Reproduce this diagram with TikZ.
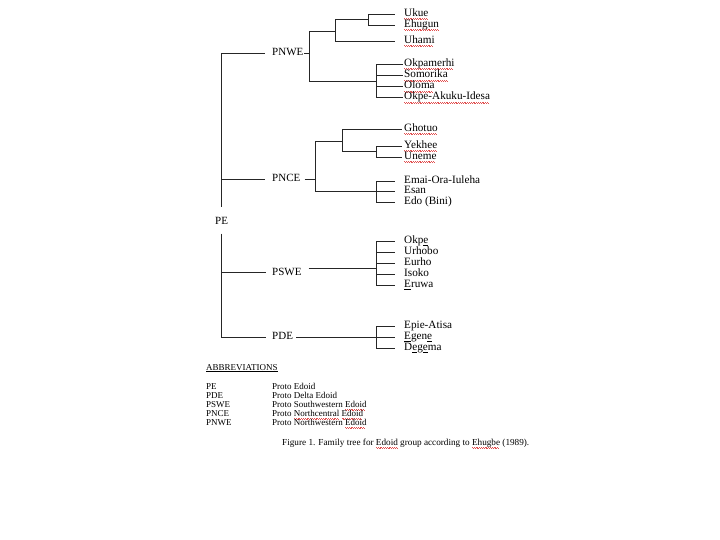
\documentclass[tikz,border=0pt]{standalone}
\usepackage{fontspec}
\setmainfont{Liberation Serif}
\definecolor{spell}{RGB}{225,80,80}
\newsavebox\splbox
\newcommand\spl[1]{\sbox\splbox{#1}\rlap{\usebox\splbox}\hbox to \wd\splbox{\color{spell}\leaders\hbox{\rule[-2.3pt]{0.9pt}{0.4pt}\rule[-3.1pt]{0.9pt}{0.4pt}}\hfill}}
\tikzset{
  tree/.style={line width=0.8pt, black!85},
  leaf/.style={anchor=west, inner sep=0pt, text height=7.5pt, text depth=2.5pt, font=\fontsize{11.2}{12}\selectfont},
  lab/.style={leaf, font=\fontsize{11}{12}\selectfont},
  abbr/.style={anchor=west, inner sep=0pt, text height=6pt, text depth=2pt, font=\fontsize{9}{10}\selectfont},
  capt/.style={anchor=west, inner sep=0pt, text height=6pt, text depth=2pt, font=\fontsize{9.2}{10}\selectfont},
}
\begin{document}
\begin{tikzpicture}[x=1pt,y=-1pt]
\useasboundingbox (0,0) rectangle (720,540);

% internal labels
\node[lab] (pe)   at (215,222) {PE};
\node[lab] (pnwe) at (272,53)  {PNWE};
\node[lab] (pnce) at (272,179) {PNCE};
\node[lab] (pswe) at (272,273) {PSWE};
\node[lab] (pde)  at (272,337) {PDE};

% leaves
\node[leaf] (ukue)      at (404,14)   {\spl{Ukue}};
\node[leaf] (ehugun)    at (404,25)   {\spl{Ehugun}};
\node[leaf] (uhami)     at (404,41)   {\spl{Uhami}};
\node[leaf] (okpamerhi) at (404,64)   {\spl{Okpamerhi}};
\node[leaf] (somorika)  at (404,75.5) {\spl{Somorika}};
\node[leaf] (oloma)     at (404,86.5) {\spl{Oloma}};
\node[leaf] (okpeakuku) at (404,97.5) {\spl{Okpe-Akuku-Idesa}};
\node[leaf] (ghotuo)    at (404,129)  {\spl{Ghotuo}};
\node[leaf] (yekhee)    at (404,146)  {\spl{Yekhee}};
\node[leaf] (uneme)     at (404,157)  {\spl{Uneme}};
\node[leaf] (emai)      at (404,181)  {Emai-Ora-Iuleha};
\node[leaf] (esan)      at (404,191.5){Esan};
\node[leaf] (edo)       at (404,202)  {Edo (Bini)};
\node[leaf] (okpe)      at (404,241)  {Okp\underline{e}};
\node[leaf] (urhobo)    at (404,252)  {Urhobo};
\node[leaf] (eurho)     at (404,263)  {Eurho};
\node[leaf] (isoko)     at (404,274)  {Isoko};
\node[leaf] (eruwa)     at (404,285)  {\underline{E}ruwa};
\node[leaf] (epie)      at (404,326)  {Epie-Atisa};
\node[leaf] (egene)     at (404,337)  {\underline{E}gen\underline{e}};
\node[leaf] (degema)    at (404,348)  {D\underline{e}g\underline{e}ma};

% junctions
\coordinate (j1) at (309,53);
\coordinate (j2) at (335,31);
\coordinate (j3) at (368,19.5);
\coordinate (j4) at (376,81);
\coordinate (k1) at (315,179);
\coordinate (k2) at (342,141);
\coordinate (k3) at (376,151.5);
\coordinate (k4) at (376,191);
\coordinate (m1) at (376,268);
\coordinate (n1) at (376,337);

% trunk
\draw[tree] ([yshift=10pt]pe.north) |- ([xshift=-7pt]pnwe.west);
\draw[tree] (pe.north |- pnce.west) -- ([xshift=-7pt]pnce.west);
\draw[tree] ([yshift=-6.5pt]pe.south) |- ([xshift=-6pt]pde.west);
\draw[tree] (pe.south |- 0,272) -- ([xshift=-6pt,yshift=1pt]pswe.west);

% PNWE
\draw[tree] ([xshift=0.5pt]pnwe.east) -- (j1);
\draw[tree] (j1) |- (j2);
\draw[tree] (j1) |- (j4);
\draw[tree] (j2) |- (j3);
\draw[tree] (j2) |- ([xshift=-9pt]uhami.west);
\draw[tree] (j3) |- ([xshift=-9pt]ukue.west);
\draw[tree] (j3) |- ([xshift=-9pt]ehugun.west);
\foreach \n in {okpamerhi,somorika,oloma,okpeakuku}
  \draw[tree] (j4) |- ([xshift=-1pt]\n.west);

% PNCE
\draw[tree] ([xshift=4pt]pnce.east) -- (k1);
\draw[tree] (k1) |- (k2);
\draw[tree] (k1) |- (k4);
\draw[tree] (k2) |- ([xshift=-2pt]ghotuo.west);
\draw[tree] (k2) |- (k3);
\foreach \n in {yekhee,uneme}
  \draw[tree] (k3) |- ([xshift=-2pt]\n.west);
\foreach \n in {emai,esan,edo}
  \draw[tree] (k4) |- ([xshift=-9pt]\n.west);

% PSWE
\draw[tree] ([xshift=7pt,yshift=5pt]pswe.east) -- (m1);
\foreach \n in {okpe,urhobo,eurho,isoko,eruwa}
  \draw[tree] (m1) |- ([xshift=-9pt]\n.west);

% PDE
\draw[tree] ([xshift=3pt]pde.east) -- (n1);
\foreach \n in {epie,egene,degema}
  \draw[tree] (n1) |- ([xshift=-9pt]\n.west);

% abbreviations
\node[abbr] (abbrev) at (206,368) {\underline{ABBREVIATIONS}};
\node[abbr] (a1) at (206,387) {PE};
\node[abbr] (a2) at (206,396) {PDE};
\node[abbr] (a3) at (206,405) {PSWE};
\node[abbr] (a4) at (206,414) {PNCE};
\node[abbr] (a5) at (206,423) {PNWE};
\node[abbr] (b1) at (272,387) {Proto Edoid};
\node[abbr] (b2) at (272,396) {Proto Delta Edoid};
\node[abbr] (b3) at (272,405) {Proto Southwestern \spl{Edoid}};
\node[abbr] (b4) at (272,414) {Proto \spl{Northcentral} \spl{Edoid}};
\node[abbr] (b5) at (272,423) {Proto Northwestern \spl{Edoid}};

% caption
\node[capt] (caption) at (282,443) {Figure 1. Family tree for \spl{Edoid} group according to \spl{Ehugbe} (1989).};
\end{tikzpicture}
\end{document}
